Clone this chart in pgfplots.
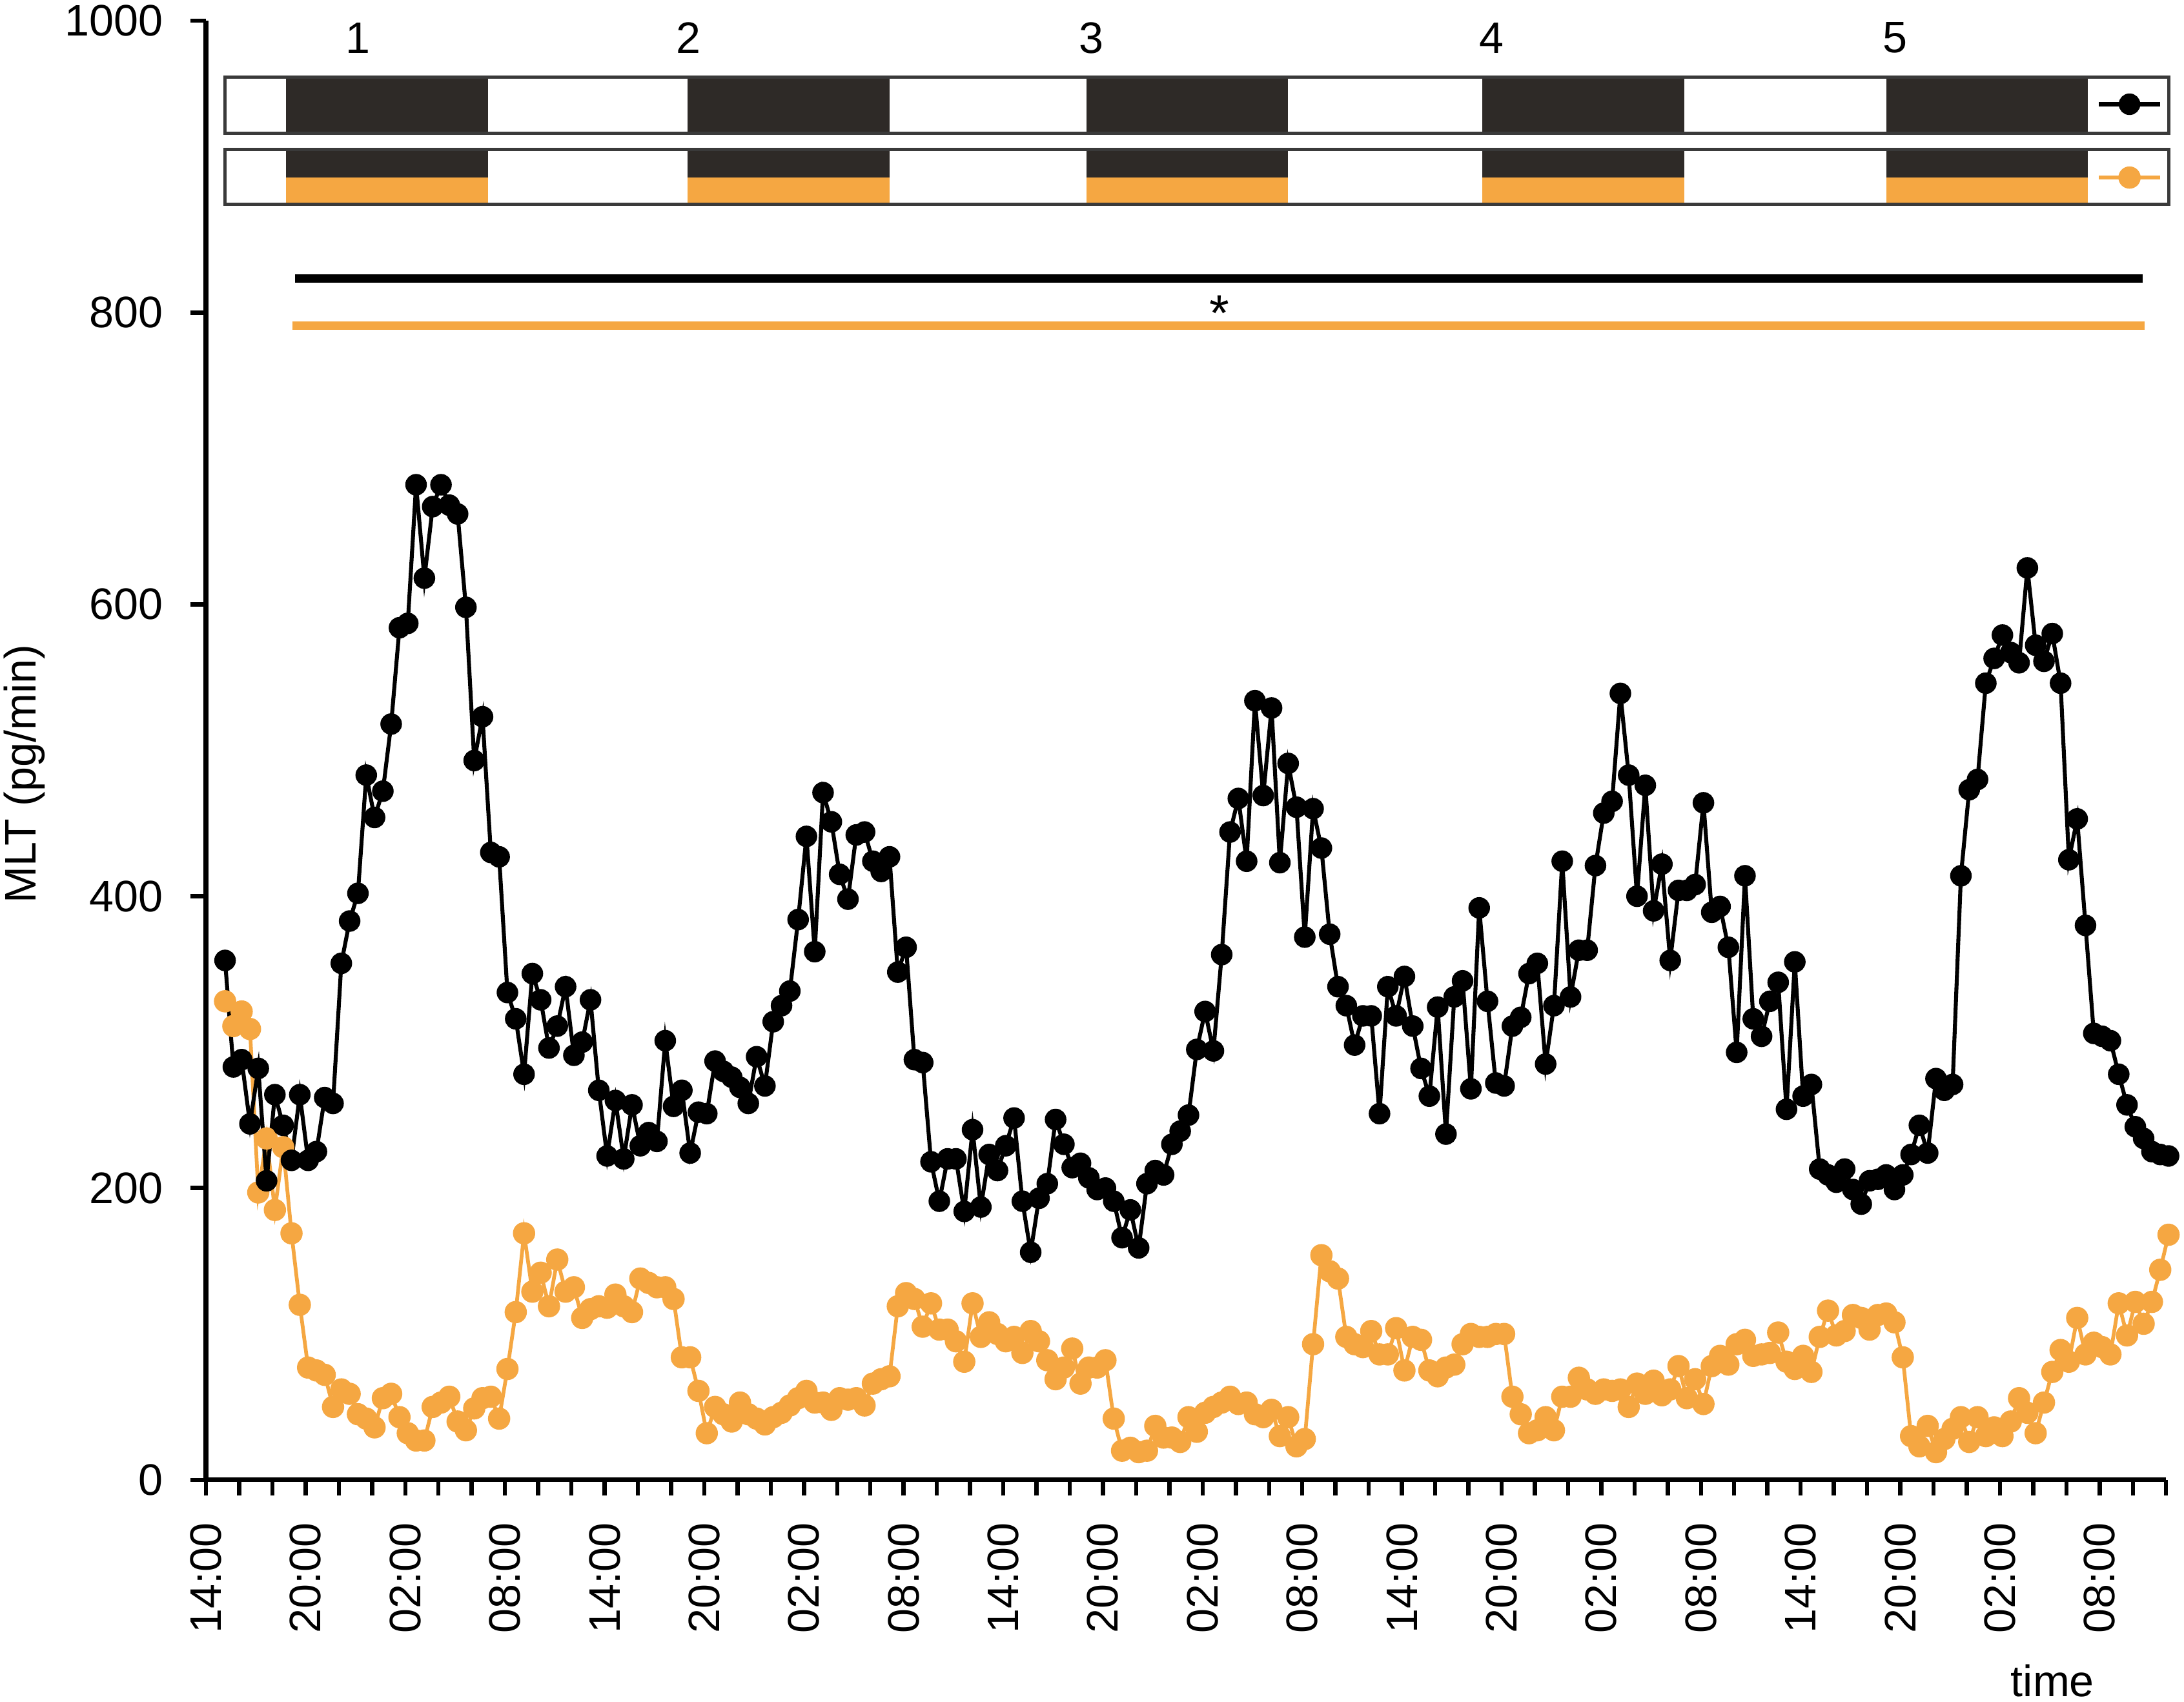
\documentclass[border=0pt]{standalone}
\usepackage{fontspec}
\setmainfont{Liberation Sans}
\usepackage{pgfplots}
\pgfplotsset{compat=1.18}
\definecolor{orng}{RGB}{245,167,66}
\definecolor{darkbar}{RGB}{46,42,39}
\definecolor{barborder}{RGB}{58,58,58}
\newcommand{\ff}{\fontsize{9.5}{11.4}\selectfont}
\begin{document}
\begin{tikzpicture}
\path[use as bounding box] (0,0) rectangle (470.52pt,366.63pt);
\begin{axis}[
  at={(44.37pt,47.73pt)}, anchor=south west,
  scale only axis, width=422.28pt, height=314.43pt,
  xmin=0, xmax=118, ymin=0, ymax=1000,
  axis lines=left, axis line style={-, line width=1pt},
  clip=false,
  tick align=outside,
  xtick={0,6,...,114},
  minor xtick={0,2,...,118},
  xticklabels={14:00,20:00,02:00,08:00,14:00,20:00,02:00,08:00,14:00,20:00,02:00,08:00,14:00,20:00,02:00,08:00,14:00,20:00,02:00,08:00},
  ytick={0,200,400,600,800,1000},
  yticklabels={0,200,400,600,800,1000},
  major tick length=3.4pt, minor tick length=3.4pt,
  tick style={black, line width=0.9pt},
  xticklabel style={rotate=90, anchor=east, inner sep=0pt, font=\ff},
  yticklabel style={anchor=east, inner sep=0pt, font=\ff},
  xticklabel shift=5.7pt, yticklabel shift=5.6pt,
  xlabel={time}, ylabel={MLT (pg/min)},
  xlabel style={at={(axis description cs:0.9421,-0.1484)}, anchor=base, font=\ff, inner sep=0pt},
  ylabel style={at={(axis description cs:-0.08695,0.4837)}, anchor=base, font=\ff, inner sep=0pt},
  legend style={at={(axis description cs:0.98254,0.9175)}, anchor=center, draw=none, fill=none, inner sep=0pt, outer sep=0pt, row sep=11.9pt, nodes={inner sep=0pt, font=\tiny}},
  legend image code/.code={\draw[#1, mark repeat=2, mark phase=2] plot coordinates {(0pt,0pt) (6.6pt,0pt) (13.2pt,0pt)};},
  reverse legend,
]
% light/dark bars
\fill[darkbar] (axis cs:4.8,923.0) rectangle (axis cs:17.0,961.5);
\fill[darkbar] (axis cs:29.0,923.0) rectangle (axis cs:41.15,961.5);
\fill[darkbar] (axis cs:53.0,923.0) rectangle (axis cs:65.15,961.5);
\fill[darkbar] (axis cs:76.85,923.0) rectangle (axis cs:89.0,961.5);
\fill[darkbar] (axis cs:101.15,923.0) rectangle (axis cs:113.3,961.5);
\draw[barborder, line width=0.7pt] (axis cs:1.15,923.0) rectangle (axis cs:118.15,961.5);
\fill[darkbar] (axis cs:4.8,892.4) rectangle (axis cs:17.0,911.8);
\fill[darkbar] (axis cs:29.0,892.4) rectangle (axis cs:41.15,911.8);
\fill[darkbar] (axis cs:53.0,892.4) rectangle (axis cs:65.15,911.8);
\fill[darkbar] (axis cs:76.85,892.4) rectangle (axis cs:89.0,911.8);
\fill[darkbar] (axis cs:101.15,892.4) rectangle (axis cs:113.3,911.8);
\fill[orng] (axis cs:4.8,874.2) rectangle (axis cs:17.0,892.4);
\fill[orng] (axis cs:29.0,874.2) rectangle (axis cs:41.15,892.4);
\fill[orng] (axis cs:53.0,874.2) rectangle (axis cs:65.15,892.4);
\fill[orng] (axis cs:76.85,874.2) rectangle (axis cs:89.0,892.4);
\fill[orng] (axis cs:101.15,874.2) rectangle (axis cs:113.3,892.4);
\draw[barborder, line width=0.7pt] (axis cs:1.15,874.2) rectangle (axis cs:118.15,911.8);
\node[font=\ff, inner sep=0pt] at (axis cs:9.15,988.3) {1};
\node[font=\ff, inner sep=0pt] at (axis cs:29.06,988.3) {2};
\node[font=\ff, inner sep=0pt] at (axis cs:53.3,988.3) {3};
\node[font=\ff, inner sep=0pt] at (axis cs:77.4,988.3) {4};
\node[font=\ff, inner sep=0pt] at (axis cs:101.7,988.3) {5};
% significance lines
\draw[black, line width=1.85pt] (axis cs:5.37,823.3) -- (axis cs:116.6,823.3);
\draw[orng, line width=1.85pt] (axis cs:5.19,790.9) -- (axis cs:116.7,790.9);
\node[font=\fontsize{11}{13}\selectfont, inner sep=0pt] at (axis cs:61.03,799.6) {*};
% orange series
\addplot[orng, line width=0.8pt, mark=*, mark size=2.0pt, mark options={solid, fill=orng}]
table[row sep=\\, x expr=\thisrow{L}+0.15, y=v]{L v\\
1 328\\ 1.5 311\\ 2 321\\ 2.5 309\\ 3 197\\ 3.5 234\\ 4 185\\ 4.5 228\\ 5 169\\ 5.5 120\\
6 77\\ 6.5 75\\ 7 72\\ 7.5 50\\ 8 62\\ 8.5 59\\ 9 45\\ 9.5 42\\ 10 36\\ 10.5 56\\
11 59\\ 11.5 43\\ 12 32\\ 12.5 27\\ 13 27\\ 13.5 50\\ 14 53\\ 14.5 57\\ 15 40\\ 15.5 34\\
16 49\\ 16.5 56\\ 17 57\\ 17.5 42\\ 18 76\\ 18.5 115\\ 19 169\\ 19.5 129\\ 20 142\\ 20.5 119\\
21 151\\ 21.5 129\\ 22 132\\ 22.5 111\\ 23 117\\ 23.5 119\\ 24 118\\ 24.5 127\\ 25 119\\ 25.5 115\\
26 138\\ 26.5 135\\ 27 132\\ 27.5 132\\ 28 124\\ 28.5 84\\ 29 84\\ 29.5 61\\ 30 32\\ 30.5 50\\
31 45\\ 31.5 40\\ 32 53\\ 32.5 45\\ 33 42\\ 33.5 38\\ 34 43\\ 34.5 46\\ 35 51\\ 35.5 56\\
36 61\\ 36.5 53\\ 37 53\\ 37.5 48\\ 38 56\\ 38.5 55\\ 39 56\\ 39.5 51\\ 40 66\\ 40.5 69\\
41 71\\ 41.5 119\\ 42 128\\ 42.5 124\\ 43 105\\ 43.5 121\\ 44 103\\ 44.5 103\\ 45 95\\ 45.5 81\\
46 121\\ 46.5 98\\ 47 108\\ 47.5 100\\ 48 95\\ 48.5 98\\ 49 87\\ 49.5 102\\ 50 95\\ 50.5 82\\
51 69\\ 51.5 77\\ 52 90\\ 52.5 66\\ 53 77\\ 53.5 77\\ 54 82\\ 54.5 42\\ 55 20\\ 55.5 22\\
56 19\\ 56.5 20\\ 57 37\\ 57.5 29\\ 58 29\\ 58.5 26\\ 59 43\\ 59.5 33\\ 60 46\\ 60.5 50\\
61 53\\ 61.5 57\\ 62 52\\ 62.5 53\\ 63 45\\ 63.5 43\\ 64 48\\ 64.5 30\\ 65 43\\ 65.5 23\\
66 28\\ 66.5 93\\ 67 154\\ 67.5 143\\ 68 138\\ 68.5 98\\ 69 93\\ 69.5 91\\ 70 102\\ 70.5 86\\
71 86\\ 71.5 104\\ 72 75\\ 72.5 98\\ 73 96\\ 73.5 75\\ 74 71\\ 74.5 77\\ 75 79\\ 75.5 93\\
76 100\\ 76.5 98\\ 77 98\\ 77.5 100\\ 78 100\\ 78.5 57\\ 79 45\\ 79.5 32\\ 80 34\\ 80.5 43\\
81 34\\ 81.5 57\\ 82 57\\ 82.5 70\\ 83 62\\ 83.5 59\\ 84 62\\ 84.5 61\\ 85 62\\ 85.5 50\\
86 66\\ 86.5 59\\ 87 68\\ 87.5 58\\ 88 62\\ 88.5 78\\ 89 56\\ 89.5 69\\ 90 52\\ 90.5 78\\
91 85\\ 91.5 79\\ 92 93\\ 92.5 96\\ 93 85\\ 93.5 86\\ 94 87\\ 94.5 101\\ 95 81\\ 95.5 76\\
96 85\\ 96.5 74\\ 97 98\\ 97.5 116\\ 98 99\\ 98.5 102\\ 99 113\\ 99.5 111\\ 100 103\\ 100.5 113\\
101 114\\ 101.5 108\\ 102 84\\ 102.5 30\\ 103 23\\ 103.5 37\\ 104 19\\ 104.5 28\\ 105 35\\ 105.5 43\\
106 26\\ 106.5 43\\ 107 30\\ 107.5 36\\ 108 30\\ 108.5 40\\ 109 56\\ 109.5 46\\ 110 32\\ 110.5 53\\
111 74\\ 111.5 89\\ 112 81\\ 112.5 111\\ 113 86\\ 113.5 94\\ 114 91\\ 114.5 86\\ 115 121\\ 115.5 99\\
116 122\\ 116.5 107\\ 117 122\\ 117.5 144\\ 118 168\\
};
\addlegendentry{}
% black series
\addplot[black, line width=0.85pt, mark=*, mark size=1.9pt, mark options={solid, fill=black}]
table[row sep=\\, x expr=\thisrow{L}+0.15, y=v]{L v\\
1 356\\ 1.5 283\\ 2 288\\ 2.5 244\\ 3 282\\ 3.5 205\\ 4 264\\ 4.5 243\\ 5 219\\ 5.5 264\\
6 219\\ 6.5 225\\ 7 262\\ 7.5 258\\ 8 354\\ 8.5 383\\ 9 402\\ 9.5 483\\ 10 454\\ 10.5 472\\
11 518\\ 11.5 584\\ 12 587\\ 12.5 682\\ 13 618\\ 13.5 667\\ 14 682\\ 14.5 668\\ 15 662\\ 15.5 598\\
16 493\\ 16.5 523\\ 17 430\\ 17.5 427\\ 18 334\\ 18.5 316\\ 19 278\\ 19.5 347\\ 20 329\\ 20.5 296\\
21 311\\ 21.5 338\\ 22 291\\ 22.5 300\\ 23 329\\ 23.5 267\\ 24 222\\ 24.5 260\\ 25 220\\ 25.5 257\\
26 229\\ 26.5 238\\ 27 232\\ 27.5 301\\ 28 256\\ 28.5 267\\ 29 224\\ 29.5 252\\ 30 251\\ 30.5 287\\
31 280\\ 31.5 276\\ 32 269\\ 32.5 258\\ 33 290\\ 33.5 270\\ 34 314\\ 34.5 325\\ 35 335\\ 35.5 384\\
36 441\\ 36.5 362\\ 37 471\\ 37.5 451\\ 38 415\\ 38.5 398\\ 39 442\\ 39.5 444\\ 40 424\\ 40.5 417\\
41 427\\ 41.5 348\\ 42 365\\ 42.5 288\\ 43 286\\ 43.5 218\\ 44 191\\ 44.5 220\\ 45 220\\ 45.5 184\\
46 240\\ 46.5 187\\ 47 223\\ 47.5 212\\ 48 229\\ 48.5 248\\ 49 191\\ 49.5 156\\ 50 193\\ 50.5 203\\
51 247\\ 51.5 230\\ 52 214\\ 52.5 217\\ 53 207\\ 53.5 199\\ 54 200\\ 54.5 191\\ 55 166\\ 55.5 185\\
56 159\\ 56.5 203\\ 57 212\\ 57.5 209\\ 58 230\\ 58.5 239\\ 59 250\\ 59.5 295\\ 60 321\\ 60.5 294\\
61 360\\ 61.5 444\\ 62 467\\ 62.5 424\\ 63 534\\ 63.5 469\\ 64 529\\ 64.5 423\\ 65 491\\ 65.5 461\\
66 372\\ 66.5 460\\ 67 433\\ 67.5 374\\ 68 338\\ 68.5 325\\ 69 298\\ 69.5 318\\ 70 318\\ 70.5 251\\
71 338\\ 71.5 318\\ 72 345\\ 72.5 311\\ 73 282\\ 73.5 263\\ 74 324\\ 74.5 237\\ 75 331\\ 75.5 342\\
76 268\\ 76.5 392\\ 77 328\\ 77.5 272\\ 78 270\\ 78.5 311\\ 79 317\\ 79.5 347\\ 80 354\\ 80.5 285\\
81 325\\ 81.5 424\\ 82 331\\ 82.5 363\\ 83 363\\ 83.5 421\\ 84 457\\ 84.5 465\\ 85 539\\ 85.5 483\\
86 400\\ 86.5 476\\ 87 390\\ 87.5 422\\ 88 356\\ 88.5 404\\ 89 404\\ 89.5 408\\ 90 464\\ 90.5 389\\
91 393\\ 91.5 365\\ 92 293\\ 92.5 414\\ 93 316\\ 93.5 304\\ 94 328\\ 94.5 341\\ 95 254\\ 95.5 355\\
96 263\\ 96.5 271\\ 97 213\\ 97.5 209\\ 98 204\\ 98.5 213\\ 99 199\\ 99.5 189\\ 100 205\\ 100.5 206\\
101 209\\ 101.5 199\\ 102 209\\ 102.5 223\\ 103 243\\ 103.5 224\\ 104 275\\ 104.5 267\\ 105 271\\ 105.5 414\\
106 473\\ 106.5 480\\ 107 546\\ 107.5 563\\ 108 579\\ 108.5 567\\ 109 560\\ 109.5 625\\ 110 572\\ 110.5 561\\
111 580\\ 111.5 546\\ 112 425\\ 112.5 453\\ 113 380\\ 113.5 306\\ 114 304\\ 114.5 301\\ 115 278\\ 115.5 257\\
116 242\\ 116.5 234\\ 117 225\\ 117.5 223\\ 118 222\\
};
\addlegendentry{}
\end{axis}
\end{tikzpicture}
\end{document}
